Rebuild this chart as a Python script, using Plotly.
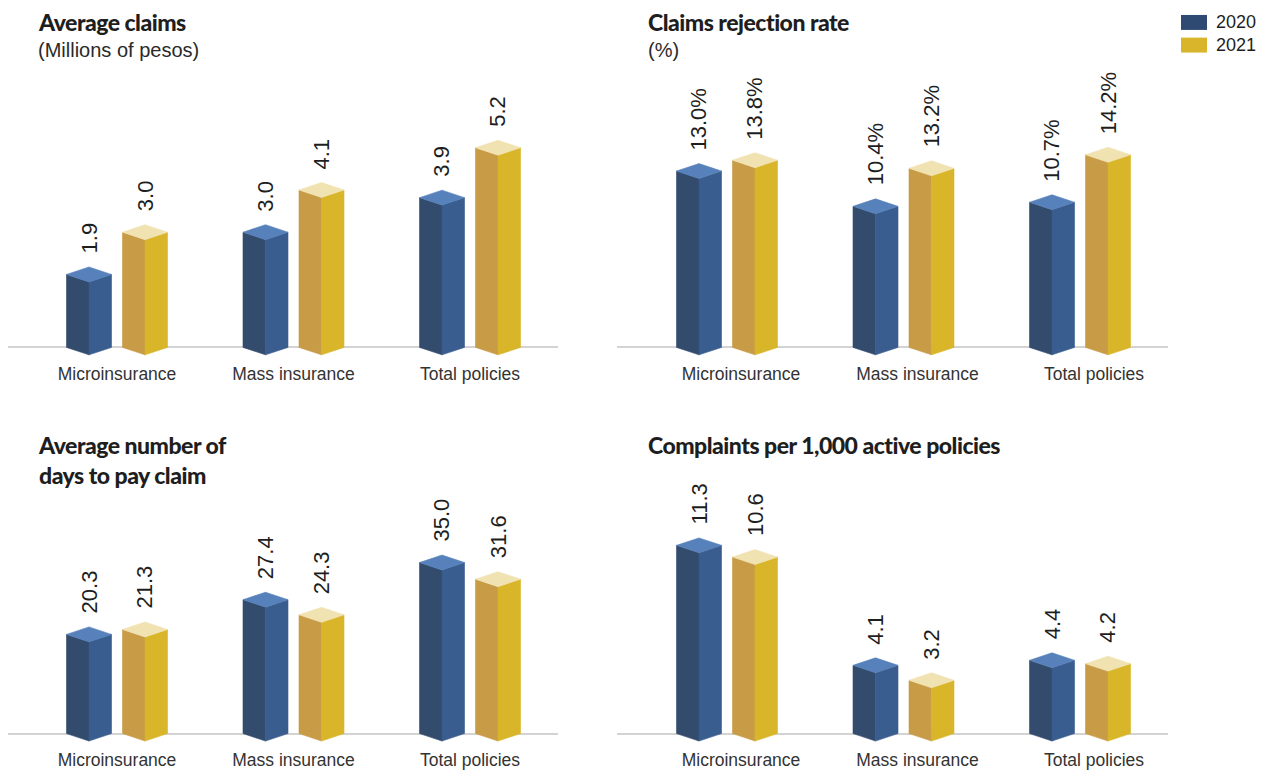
import plotly.graph_objects as go

# ---- data -------------------------------------------------------------
categories = ["Microinsurance", "Mass insurance", "Total policies"]
years = ["2020", "2021"]

avg_claims_2020 = [1.9, 3.0, 3.9]
avg_claims_2021 = [3.0, 4.1, 5.2]

rejection_rate_2020 = [13.0, 10.4, 10.7]
rejection_rate_2021 = [13.8, 13.2, 14.2]

days_to_pay_2020 = [20.3, 27.4, 35.0]
days_to_pay_2021 = [21.3, 24.3, 31.6]

complaints_2020 = [11.3, 4.1, 4.4]
complaints_2021 = [10.6, 3.2, 4.2]

# ---- page geometry (pixels) ------------------------------------------
W, H = 1269, 770
GROUP_STEP = 176.5      # px between category groups
BAR_OFFSET = 28.0       # px from group centre to each bar centre
BAR_HALF = 22.5         # px half width of a bar
DEPTH = 7.5             # px vertical depth of the prism faces

# face colours: left (shaded), right (lit), top
FACES = {
    "2020": ("#334c6d", "#3a5d8f", "#5781ba"),
    "2021": ("#c89b47", "#d9b52a", "#f1e2b1"),
}
SWATCH = {"2020": "#2e4a72", "2021": "#d8b52b"}

TITLE_FONT = "Lato, DejaVu Sans Condensed, sans-serif"
BODY_FONT = "Liberation Sans, Arial, sans-serif"
INK = "#1e1e1e"

panels = [
    dict(title="Average claims", subtitle="(Millions of pesos)",
         series=[avg_claims_2020, avg_claims_2021], suffix="",
         x0=8, x1=558, g0=117, label_shift=0,
         zero=348.3, scale=38.5, top=60, bottom=362),
    dict(title="Claims rejection rate", subtitle="(%)",
         series=[rejection_rate_2020, rejection_rate_2021], suffix="%",
         x0=617, x1=1168, g0=727, label_shift=14,
         zero=348.3, scale=13.6, top=60, bottom=362),
    dict(title="Average number of<br>days to pay claim", subtitle=None,
         series=[days_to_pay_2020, days_to_pay_2021], suffix="",
         x0=8, x1=558, g0=117, label_shift=0,
         zero=735.5, scale=4.9, top=450, bottom=749),
    dict(title="Complaints per 1,000 active policies", subtitle=None,
         series=[complaints_2020, complaints_2021], suffix="",
         x0=617, x1=1168, g0=727, label_shift=14,
         zero=735.5, scale=16.7, top=450, bottom=749),
]

title_pos = [(36, 6), (646, 6), (36, 430), (646, 430)]

fig = go.Figure()
annotations = []
layout_axes = {}


def prism_faces(xc, v, hw, d):
    """Polygons (left, right, top) of a 3-D column in data units."""
    left = [(xc - hw, 0), (xc, -d), (xc, v - d), (xc - hw, v)]
    right = [(xc, -d), (xc + hw, 0), (xc + hw, v), (xc, v - d)]
    top = [(xc - hw, v), (xc, v - d), (xc + hw, v), (xc, v + d)]
    return left, right, top


def tight(text):
    """Wrap each title line in a span with slightly tightened tracking."""
    return "<br>".join(
        f'<span style="letter-spacing:-0.5px">{line}</span>'
        for line in text.split("<br>"))


for k, p in enumerate(panels, start=1):
    xa, ya = f"x{k}", f"y{k}"
    step = GROUP_STEP
    # axis ranges derived from the pixel frame of the panel
    x_range = [-(p["g0"] - p["x0"]) / step, (p["x1"] - p["g0"]) / step]
    y_range = [-(p["bottom"] - p["zero"]) / p["scale"], (p["zero"] - p["top"]) / p["scale"]]
    hw = BAR_HALF / step
    off = BAR_OFFSET / step
    d = DEPTH / p["scale"]

    for s, (year, values) in enumerate(zip(years, p["series"])):
        polys = {0: ([], []), 1: ([], []), 2: ([], [])}
        for i, v in enumerate(values):
            xc = i + (-off if s == 0 else off)
            for f, poly in enumerate(prism_faces(xc, v, hw, d)):
                xs, ys = polys[f]
                xs.extend([pt[0] for pt in poly] + [poly[0][0], None])
                ys.extend([pt[1] for pt in poly] + [poly[0][1], None])
            # value label above the column
            annotations.append(dict(
                x=xc, y=v + d, xref=xa, yref=ya,
                text=f"{v:.1f}{p['suffix']}", textangle=-90,
                showarrow=False, xanchor="center", yanchor="bottom", yshift=11,
                font=dict(family=BODY_FONT, size=22, color=INK)))
        for f in range(3):
            xs, ys = polys[f]
            col = FACES[year][f]
            fig.add_trace(go.Scatter(
                x=xs, y=ys, xaxis=xa, yaxis=ya, mode="lines",
                fill="toself", fillcolor=col,
                line=dict(color=col, width=0.6),
                hoverinfo="skip", showlegend=False))

    layout_axes[f"xaxis{k}"] = dict(
        domain=[p["x0"] / W, p["x1"] / W], range=x_range, anchor=ya,
        showgrid=False, zeroline=False, showline=False, ticks="",
        tickmode="array",
        tickvals=[i + p["label_shift"] / step for i in range(len(categories))],
        ticktext=categories,
        tickfont=dict(family=BODY_FONT, size=17.5, color="#333333"),
        fixedrange=True)
    layout_axes[f"yaxis{k}"] = dict(
        domain=[1 - p["bottom"] / H, 1 - p["top"] / H], range=y_range, anchor=xa,
        showgrid=False, showticklabels=False, ticks="", showline=False,
        zeroline=True, zerolinecolor="#d3d3d3", zerolinewidth=1.5,
        fixedrange=True)

    tx, ty = title_pos[k - 1]
    annotations.append(dict(
        x=tx / W, y=1 - ty / H, xref="paper", yref="paper",
        xanchor="left", yanchor="top", align="left", showarrow=False,
        text=tight(p["title"]),
        font=dict(family=TITLE_FONT, size=23, color=INK, weight=900)))
    if p["subtitle"]:
        annotations.append(dict(
            x=tx / W, y=1 - (ty + 31) / H, xref="paper", yref="paper",
            xanchor="left", yanchor="top", align="left", showarrow=False,
            text=p["subtitle"],
            font=dict(family=BODY_FONT, size=20, color="#2a2a2a")))

# legend: colour swatches with year labels
shapes = []
for j, year in enumerate(years):
    y_top = 15 + j * 22.7
    shapes.append(dict(type="rect", xref="paper", yref="paper",
                       x0=1181 / W, x1=1207 / W,
                       y0=1 - (y_top + 15) / H, y1=1 - y_top / H,
                       fillcolor=SWATCH[year], line=dict(width=0)))
    annotations.append(dict(
        x=1214 / W, y=1 - (y_top + 7.5) / H, xref="paper", yref="paper",
        xanchor="left", yanchor="middle", showarrow=False, text=year,
        font=dict(family=BODY_FONT, size=18, color=INK)))

fig.update_layout(
    width=W, height=H,
    margin=dict(l=0, r=0, t=0, b=0),
    paper_bgcolor="white", plot_bgcolor="white",
    showlegend=False,
    annotations=annotations, shapes=shapes,
    **layout_axes)

fig.write_html("out.html", config={"displayModeBar": False})
